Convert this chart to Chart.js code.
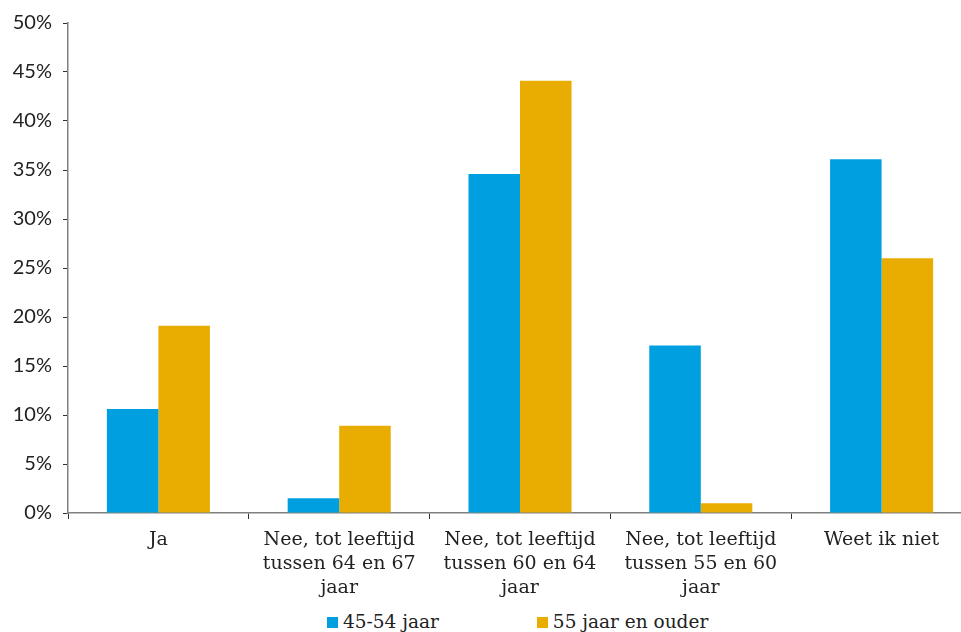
<!DOCTYPE html>
<html lang="nl">
<head>
  <meta charset="UTF-8" />
  <title>Pensioenleeftijd</title>
  <script src="https://cdn.jsdelivr.net/npm/chart.js"></script>
  <style>
    body {
      margin: 0;
      background: #fff;
      overflow: hidden;
    }
    .wrap {
      position: relative;
      width: 972px;
      height: 632px;
    }
    #chartBox {
      position: absolute;
      left: 0;
      top: 0;
      width: 972px;
      height: 600px;
    }
    #legend {
      position: absolute;
      top: 611px;
      left: 327px;
      display: flex;
      font-family: "DejaVu Serif", serif;
      font-size: 18.5px;
      color: #222;
    }
    #legend .item {
      display: flex;
      align-items: center;
      margin-right: 98px;
    }
    #legend .box {
      width: 11px;
      height: 11px;
      margin-right: 5px;
      margin-top: 2px;
    }
  </style>
</head>
<body>
  <div class="wrap">
    <div id="chartBox"><canvas id="pensioen"></canvas></div>
    <div id="legend"></div>
  </div>

  <script>
    const categories = [
      'Ja',
      ['Nee, tot leeftijd', 'tussen 64 en 67', 'jaar'],
      ['Nee, tot leeftijd', 'tussen 60 en 64', 'jaar'],
      ['Nee, tot leeftijd', 'tussen 55 en 60', 'jaar'],
      'Weet ik niet'
    ];
    const seriesNames = ['45-54 jaar', '55 jaar en ouder'];
    const jonger = [10.6, 1.5, 34.6, 17.1, 36.1];
    const ouder = [19.1, 8.9, 44.1, 1.0, 26.0];
    const yTicks = [0, 5, 10, 15, 20, 25, 30, 35, 40, 45, 50];

    const blue = '#009fe0';
    const gold = '#e9ac00';
    const axisGrey = '#808080';

    // legend below the canvas, built from the datasets
    const htmlLegend = {
      id: 'htmlLegend',
      afterUpdate(chart) {
        const el = document.getElementById('legend');
        el.innerHTML = '';
        chart.data.datasets.forEach(ds => {
          const item = document.createElement('div');
          item.className = 'item';
          const box = document.createElement('span');
          box.className = 'box';
          box.style.background = ds.backgroundColor;
          const txt = document.createElement('span');
          txt.textContent = ds.label;
          item.appendChild(box);
          item.appendChild(txt);
          el.appendChild(item);
        });
      }
    };

    new Chart(document.getElementById('pensioen'), {
      type: 'bar',
      data: {
        labels: categories,
        datasets: [
          { label: seriesNames[0], data: jonger, backgroundColor: blue },
          { label: seriesNames[1], data: ouder, backgroundColor: gold }
        ]
      },
      options: {
        responsive: true,
        maintainAspectRatio: false,
        animation: false,
        layout: { padding: { top: 20, right: 0, bottom: 0, left: 0 } },
        datasets: {
          bar: { categoryPercentage: 0.57, barPercentage: 1.0 }
        },
        scales: {
          x: {
            grid: {
              display: true,
              drawOnChartArea: false,
              drawTicks: true,
              tickLength: 6,
              color: '#333',
              offset: true
            },
            border: { display: true, color: axisGrey, width: 1.5 },
            ticks: {
              color: '#222',
              padding: 9,
              maxRotation: 0,
              autoSkip: false,
              font: { family: '"DejaVu Serif", serif', size: 19, lineHeight: 1.26 }
            },
            afterFit(scale) { scale.height = 87; }
          },
          y: {
            min: 0,
            max: 50,
            afterBuildTicks(scale) {
              scale.ticks = yTicks.map(v => ({ value: v }));
            },
            grid: {
              display: true,
              drawOnChartArea: false,
              drawTicks: true,
              tickLength: 5,
              color: '#333'
            },
            border: { display: true, color: axisGrey, width: 1.5 },
            ticks: {
              color: '#222',
              padding: 11,
              font: { family: 'Lato, sans-serif', size: 20 },
              callback: v => v + '%'
            },
            afterFit(scale) { scale.width = 68; }
          }
        },
        plugins: {
          legend: { display: false },
          tooltip: { enabled: false }
        }
      },
      plugins: [htmlLegend]
    });
  </script>
</body>
</html>
